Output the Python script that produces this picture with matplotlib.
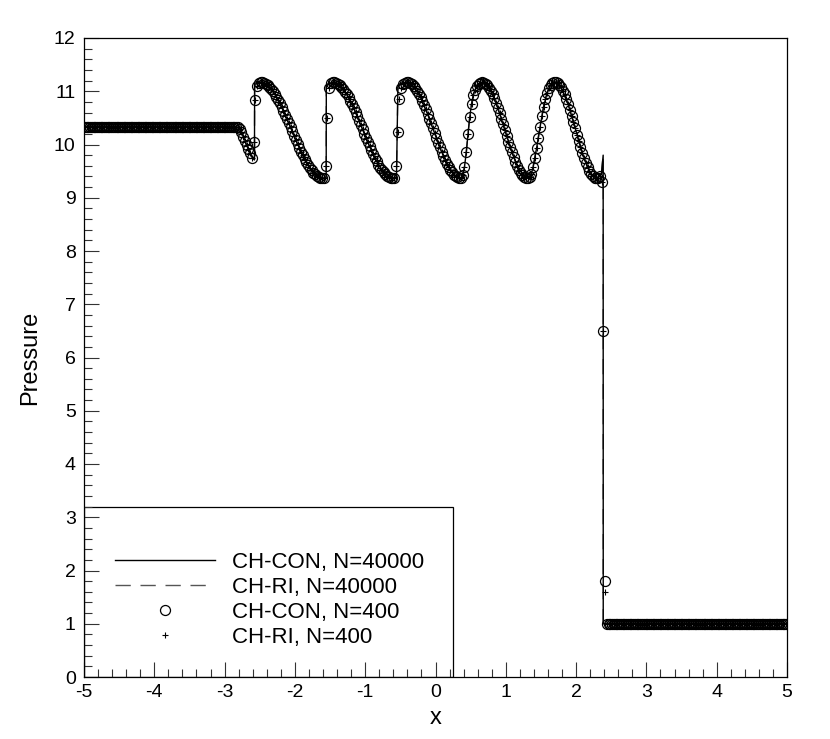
import numpy as np
import matplotlib
matplotlib.use('Agg')
import matplotlib.pyplot as plt
from matplotlib.patches import Rectangle
from matplotlib.ticker import MultipleLocator

plt.rcParams['font.family'] = ['Liberation Sans', 'DejaVu Sans']
plt.rcParams['axes.unicode_minus'] = False

# ---- data ----
# coarse grid, N=400 cells on [-5, 5]
n_coarse = 400
p_left_state = 10.333
p_right_state = 1.0
n_left = 86      # cells at the left state
n_right = 103    # cells at the right state

# cells x = -2.8375 ... 2.4125 (step 0.025)
p_con_mid = [
    # pre-shocklet dip
    10.33, 10.32, 10.29, 10.23, 10.15, 10.07, 9.99, 9.92, 9.84, 9.75,
    # shocklet 1
    10.05, 10.83, 11.10, 11.15,
    # wave 1
    11.17, 11.166, 11.155, 11.137, 11.112, 11.080, 11.043, 10.999, 10.950, 10.895,
    10.836, 10.771, 10.703, 10.632, 10.559, 10.482, 10.405, 10.326, 10.246, 10.167,
    10.089, 10.011, 9.936, 9.864, 9.795, 9.729, 9.668, 9.611, 9.560, 9.514,
    9.473, 9.439, 9.412, 9.392, 9.377, 9.371, 9.370,
    # shocklet 2
    9.60, 10.49, 11.07, 11.15,
    # wave 2
    11.17, 11.166, 11.155, 11.136, 11.111, 11.078, 11.038, 10.992, 10.940, 10.883,
    10.820, 10.753, 10.682, 10.607, 10.529, 10.450, 10.369, 10.287, 10.204, 10.123,
    10.043, 9.964, 9.888, 9.815, 9.747, 9.682, 9.623, 9.568, 9.519, 9.477,
    9.441, 9.413, 9.391, 9.377, 9.371, 9.371,
    # shocklet 3
    9.59, 10.24, 10.85, 11.06, 11.13, 11.16,
    # wave 3
    11.17, 11.165, 11.151, 11.128, 11.096, 11.055, 11.007, 10.950, 10.887, 10.817,
    10.741, 10.661, 10.576, 10.488, 10.398, 10.307, 10.215, 10.124, 10.034, 9.947,
    9.863, 9.784, 9.709, 9.640, 9.577, 9.523, 9.475, 9.436, 9.405, 9.385,
    9.373, 9.370,
    # rise 4
    9.42, 9.58, 9.85, 10.20, 10.52, 10.76, 10.93, 11.03, 11.09, 11.13, 11.16, 11.17,
    # wave 4
    11.163, 11.144, 11.112, 11.067, 11.011, 10.944, 10.867, 10.781, 10.688, 10.589,
    10.485, 10.378, 10.270, 10.162, 10.055, 9.951, 9.852, 9.759, 9.673, 9.596,
    9.529, 9.473, 9.428, 9.396, 9.377, 9.370,
    # rise 5
    9.39, 9.45, 9.57, 9.74, 9.93, 10.12, 10.33, 10.53, 10.71, 10.85,
    10.97, 11.06, 11.12, 11.15, 11.17, 11.17,
    # wave 5
    11.152, 11.121, 11.074, 11.013, 10.939, 10.854, 10.757, 10.653, 10.541, 10.425,
    10.306, 10.186, 10.068, 9.953, 9.844, 9.742, 9.651, 9.569, 9.501, 9.445,
    9.404, 9.380, 9.371,
    # main shock
    9.38, 9.40, 9.30, 6.50, 1.80,
]
p_ri_shock = [9.38, 9.40, 9.30, 6.50, 1.60]

# fine solution (N=40000), drawn as a line
x_fine = [-5.0, -2.84, -2.80, -2.76, -2.72, -2.68, -2.64, -2.60, -2.575, -2.573, -2.55,
          -2.4875, -2.3875, -2.2875, -2.1875, -2.0875, -1.9875, -1.8875, -1.7875, -1.6875, -1.5875,
          -1.555, -1.553, -1.50,
          -1.4625, -1.3625, -1.2625, -1.1625, -1.0625, -0.9625, -0.8625, -0.7625, -0.6625, -0.5875,
          -0.555, -0.535, -0.49,
          -0.4125, -0.3125, -0.2125, -0.1125, -0.0125, 0.0875, 0.1875, 0.2875, 0.3625,
          0.3875, 0.4125, 0.4375, 0.4625, 0.4875, 0.5125, 0.5375, 0.5625, 0.5875, 0.6125, 0.6625,
          0.7625, 0.8625, 0.9625, 1.0625, 1.1625, 1.2625, 1.3125,
          1.3375, 1.3625, 1.3875, 1.4375, 1.4875, 1.5375, 1.5875, 1.6375, 1.70,
          1.7875, 1.8875, 1.9875, 2.0875, 2.1875, 2.2375, 2.2875, 2.33, 2.36, 2.385,
          2.386, 5.0]
p_fine = [10.333, 10.333, 10.31, 10.23, 10.11, 9.97, 9.85, 9.74, 9.71, 11.12, 11.15,
          11.17, 11.112, 10.950, 10.703, 10.405, 10.089, 9.795, 9.560, 9.412, 9.370,
          9.38, 11.10, 11.15,
          11.17, 11.111, 10.940, 10.682, 10.369, 10.043, 9.747, 9.519, 9.391, 9.371,
          9.38, 11.08, 11.15,
          11.17, 11.096, 10.887, 10.576, 10.215, 9.863, 9.577, 9.405, 9.370,
          9.42, 9.58, 9.85, 10.20, 10.52, 10.76, 10.93, 11.03, 11.09, 11.13, 11.17,
          11.067, 10.781, 10.378, 9.951, 9.596, 9.396, 9.370,
          9.39, 9.45, 9.57, 9.93, 10.33, 10.71, 10.97, 11.12, 11.17,
          11.074, 10.757, 10.306, 9.844, 9.501, 9.404, 9.371, 9.40, 9.45, 9.80,
          1.0, 1.0]

# ---- assemble coarse series ----
dx = 10.0 / n_coarse
x_coarse = np.linspace(-5 + dx / 2, 5 - dx / 2, n_coarse)
p_con_400 = np.array([p_left_state] * n_left + p_con_mid + [p_right_state] * n_right)
p_ri_400 = np.array([p_left_state] * n_left + p_con_mid[:-5] + p_ri_shock + [p_right_state] * n_right)
assert len(p_con_400) == n_coarse, len(p_con_400)

# ---- plot ----
fig = plt.figure(figsize=(8.3, 7.39), dpi=100)
ax = fig.add_axes([84 / 830, 62 / 739, 703 / 830, 639 / 739])

l_ri, = ax.plot(x_fine, p_fine, color='#555555', lw=1.0, ls=(0, (11, 7)), zorder=2,
                label='CH-RI, N=40000')
l_con, = ax.plot(x_fine, p_fine, color='black', lw=1.0, zorder=3, label='CH-CON, N=40000')
m_con, = ax.plot(x_coarse, p_con_400, ls='none', marker='o', ms=7.2, mfc='none', mec='black',
                 mew=0.9, zorder=4, label='CH-CON, N=400')
m_ri, = ax.plot(x_coarse, p_ri_400, ls='none', marker='+', ms=4, mec='black', mew=0.8,
                zorder=5, label='CH-RI, N=400')

ax.set_xlim(-5, 5)
ax.set_ylim(0, 12)
ax.xaxis.set_major_locator(MultipleLocator(1))
ax.xaxis.set_minor_locator(MultipleLocator(0.2))
ax.yaxis.set_major_locator(MultipleLocator(1))
ax.yaxis.set_minor_locator(MultipleLocator(0.2))
ax.tick_params(which='both', direction='in', top=False, right=False, width=0.8, color='#333333')
ax.tick_params(which='major', length=10.5)
ax.tick_params(which='minor', length=6)
ax.tick_params(axis='x', which='major', labelsize=14, pad=5)
ax.tick_params(axis='y', which='major', labelsize=14, pad=6)
for s in ax.spines.values():
    s.set_linewidth(0.9)

ax.set_xlabel('x', fontsize=17, labelpad=4)
ax.set_ylabel('Pressure', fontsize=17, labelpad=9)

# legend box in the lower-left corner (ticks stay visible on top of it)
box = Rectangle((0, 0), 369 / 703, 170 / 639, transform=ax.transAxes,
                facecolor='white', edgecolor='black', lw=0.9, zorder=1)
ax.add_patch(box)
leg = ax.legend(handles=[l_con, l_ri, m_con, m_ri], loc='center left',
                bbox_to_anchor=(31 / 703, 77 / 639), frameon=False, fontsize=16,
                handlelength=4.5, handletextpad=0.75, labelspacing=0.18,
                borderpad=0, borderaxespad=0)
leg.set_zorder(7)

fig.savefig('out.png', dpi=100)
